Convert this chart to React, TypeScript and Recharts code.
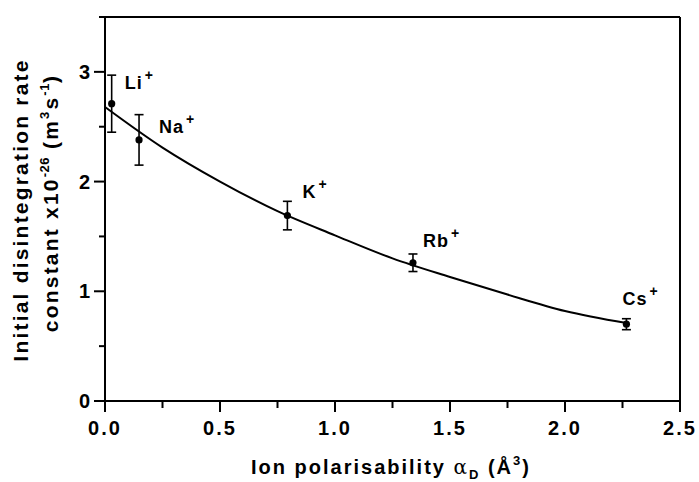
import React from "react"
import {
  ComposedChart,
  Line,
  Scatter,
  ErrorBar,
  XAxis,
  YAxis,
  ReferenceLine,
} from "recharts"

// measured points (ion polarisability vs initial disintegration rate constant)
const ions = ["Li", "Na", "K", "Rb", "Cs"]
const polarisability = [0.029, 0.148, 0.793, 1.339, 2.267]
const rateConstant = [2.71, 2.38, 1.69, 1.26, 0.7]
const rateError = [0.26, 0.23, 0.13, 0.08, 0.05]

// fitted curve
const fitX = [0, 0.25, 0.5, 0.75, 1.0, 1.25, 1.5, 1.75, 2.0, 2.267]
const fitY = [2.68, 2.31, 2.0, 1.73, 1.51, 1.3, 1.13, 0.97, 0.82, 0.71]

const xMajorTicks = [0, 0.5, 1, 1.5, 2, 2.5]
const xMinorTicks = [0.25, 0.75, 1.25, 1.75, 2.25]
const yMajorTicks = [0, 1, 2, 3]
const yMinorTicks = [0.5, 1.5, 2.5, 3.5]

const points = ions.map((ion, i) => ({
  ion,
  x: polarisability[i],
  y: rateConstant[i],
  err: rateError[i],
}))
const fitData = fitX.map((x, i) => ({ x, y: fitY[i] }))

// where each ion label sits relative to its point
const labelOffset: Record<string, [number, number]> = {
  Li: [13, -15],
  Na: [20, -7],
  K: [15, -18],
  Rb: [10, -16],
  Cs: [-4, -19],
}

const FONT = "'Liberation Sans', Arial, sans-serif"

const renderXTick = (props: any) => {
  const { x, y, payload } = props
  const major = xMajorTicks.includes(payload.value)
  return (
    <g>
      <line x1={x} y1={y} x2={x} y2={y + (major ? 11 : 7)} stroke="#000" strokeWidth={2} />
      {major && (
        <text x={x} y={y + 34} textAnchor="middle" fontFamily={FONT} fontWeight="bold" fontSize={20} fill="#000" letterSpacing={2}>
          {payload.value.toFixed(1)}
        </text>
      )}
    </g>
  )
}

const renderYTick = (props: any) => {
  const { x, y, payload } = props
  const major = yMajorTicks.includes(payload.value)
  return (
    <g>
      <line x1={x} y1={y} x2={x - (major ? 11 : 6)} y2={y} stroke="#000" strokeWidth={2} />
      {major && (
        <text x={x - 15} y={y + 7} textAnchor="end" fontFamily={FONT} fontWeight="bold" fontSize={20} fill="#000">
          {payload.value}
        </text>
      )}
    </g>
  )
}

const IonDot = (props: any) => {
  const { cx, cy, payload } = props
  const [dx, dy] = labelOffset[payload.ion] || [10, -15]
  return (
    <g>
      <circle cx={cx} cy={cy} r={3.6} fill="#000" />
      <text x={cx + dx} y={cy + dy} fontFamily={FONT} fontWeight="bold" fontSize={18} fill="#000" letterSpacing={1}>
        {payload.ion}
        <tspan dx={2} dy={-9} fontSize={14}>+</tspan>
      </text>
    </g>
  )
}

const YTitle = () => (
  <g fontFamily={FONT} fontWeight="bold" fontSize={21} fill="#000">
    <text transform="translate(28,210) rotate(-90)" textAnchor="middle" letterSpacing={2.2}>
      Initial disintegration rate
    </text>
    <text transform="translate(58,203) rotate(-90)" textAnchor="middle" letterSpacing={2.2}>
      constant x10
      <tspan dy={-9} fontSize={13} letterSpacing={0.5}>-26</tspan>
      <tspan dy={9}> (m</tspan>
      <tspan dy={-9} fontSize={13}>3</tspan>
      <tspan dy={9}>s</tspan>
      <tspan dy={-9} fontSize={13} letterSpacing={0.5}>-1</tspan>
      <tspan dy={9}>)</tspan>
    </text>
  </g>
)

const XTitle = () => (
  <text x={391} y={474} textAnchor="middle" fontFamily={FONT} fontWeight="bold" fontSize={20} fill="#000" letterSpacing={2}>
    Ion polarisability{" "}
    <tspan fontWeight="normal" fontFamily="'DejaVu Serif', serif">α</tspan>
    <tspan dy={5} fontSize={13}>D</tspan>
    <tspan dy={-5}>  (Å</tspan>
    <tspan dy={-9} fontSize={13}>3</tspan>
    <tspan dy={9}>)</tspan>
  </text>
)

export default function App() {
  return (
    <div style={{ position: "absolute", left: 0, top: 0, background: "#fff" }}>
      <ComposedChart
        width={699}
        height={482}
        margin={{ top: 17, right: 19, left: 0, bottom: 0 }}
      >
        <XAxis
          type="number"
          dataKey="x"
          domain={[0, 2.5]}
          ticks={[...xMajorTicks, ...xMinorTicks].sort((a, b) => a - b)}
          height={81}
          tickSize={0}
          tickMargin={0}
          tickLine={false}
          tick={renderXTick}
          axisLine={{ stroke: "#000", strokeWidth: 2 }}
          interval={0}
          label={{ content: () => <XTitle /> }}
        />
        <YAxis
          type="number"
          dataKey="y"
          domain={[0, 3.5]}
          ticks={[...yMajorTicks, ...yMinorTicks].sort((a, b) => a - b)}
          width={105}
          tickSize={0}
          tickMargin={0}
          tickLine={false}
          tick={renderYTick}
          axisLine={{ stroke: "#000", strokeWidth: 2 }}
          interval={0}
          label={{ content: () => <YTitle /> }}
        />
        <ReferenceLine y={3.5} stroke="#000" strokeWidth={2} />
        <ReferenceLine x={2.5} stroke="#000" strokeWidth={2} />
        <Line
          data={fitData}
          dataKey="y"
          type="monotone"
          stroke="#000"
          strokeWidth={2}
          dot={false}
          activeDot={false}
          isAnimationActive={false}
        />
        <Scatter data={points} dataKey="y" shape={<IonDot />} isAnimationActive={false}>
          <ErrorBar dataKey="err" direction="y" width={4.5} stroke="#000" strokeWidth={1.6} isAnimationActive={false} />
        </Scatter>
      </ComposedChart>
    </div>
  )
}
